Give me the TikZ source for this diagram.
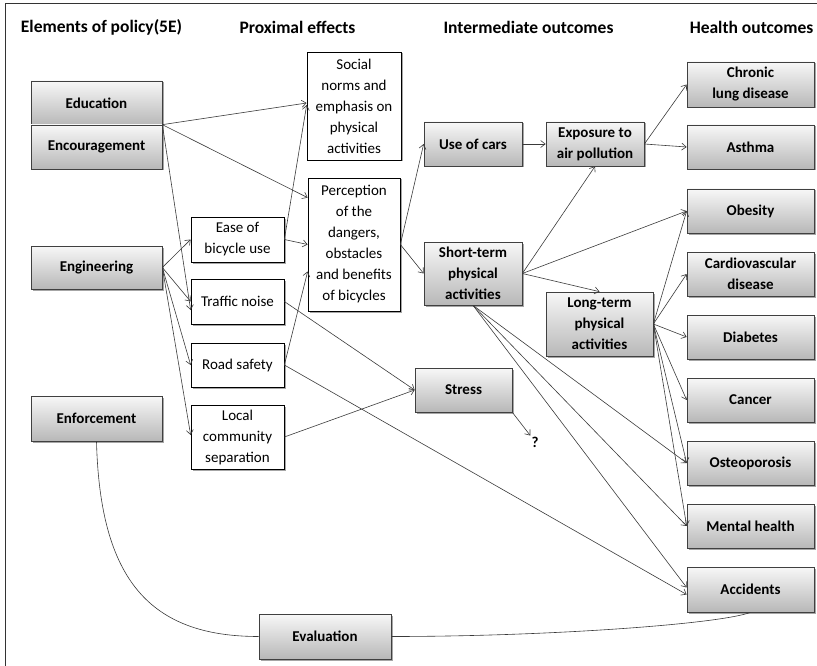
\documentclass[tikz,border=0pt]{standalone}
\usepackage{fontspec}
\setmainfont{Carlito}
\usetikzlibrary{arrows.meta,shadows}
\definecolor{edge}{HTML}{3A3A3A}
\begin{document}
\begin{tikzpicture}[x=1pt,y=-1pt,
  shd/.style={drop shadow={shadow xshift=1.5pt,shadow yshift=-1.5pt,fill=black,opacity=0.35}},
  gbox/.style={shd,draw=black!75,line width=0.7pt,top color=black!3,bottom color=black!28,
    font=\fontsize{15}{21}\selectfont\bfseries,align=center,inner sep=0pt},
  wbox/.style={shd,draw=black,line width=0.7pt,fill=white,
    font=\fontsize{15}{21}\selectfont,align=center,inner sep=0pt},
  hdr/.style={font=\fontsize{17.5}{21}\selectfont\bfseries,inner sep=0pt},
  conn/.style={draw=edge,line width=0.6pt,-{Straight Barb[length=4.5pt,width=7pt]}},
  link/.style={draw=edge,line width=0.6pt}]
\useasboundingbox (0,0) rectangle (817,666);
\draw[black!80,line width=0.8pt] (5,666) -- (5,3) -- (817,3);

% headers
\node[hdr] (h1) at (101.5,27) {Elements of policy(5E)};
\node[hdr] (h2) at (297.5,27) {Proximal effects};
\node[hdr] (h3) at (528.5,27) {Intermediate outcomes};
\node[hdr] (h4) at (751.5,27) {Health outcomes};

% elements of policy
\node[gbox,minimum width=131pt,minimum height=44pt] (edu) at (96.5,103) {Education};
\node[gbox,minimum width=131pt,minimum height=44pt] (enc) at (96.5,147) {Encouragement};
\node[gbox,minimum width=131pt,minimum height=43pt] (eng) at (96.5,267.5) {Engineering};
\node[gbox,minimum width=131pt,minimum height=45pt] (enf) at (96.5,418.5) {Enforcement};
\node[gbox,minimum width=132pt,minimum height=45pt] (eval) at (325,636.5) {Evaluation};

% proximal effects
\node[wbox,minimum width=94pt,minimum height=108pt] (social) at (354,106) {Social\\norms and\\emphasis on\\physical\\activities};
\node[wbox,minimum width=92pt,minimum height=133pt] (perc) at (354,244.5) {Perception\\of the\\dangers,\\obstacles\\and benefits\\of bicycles};
\node[wbox,minimum width=93pt,minimum height=45pt] (ease) at (237.5,239.5) {Ease of\\bicycle use};
\node[wbox,minimum width=93pt,minimum height=45pt] (noise) at (237.5,301.5) {Traffic noise};
\node[wbox,minimum width=93pt,minimum height=44pt] (road) at (237.5,365) {Road safety};
\node[wbox,minimum width=93pt,minimum height=64pt] (local) at (237.5,437) {Local\\community\\separation};

% intermediate outcomes
\node[gbox,minimum width=98pt,minimum height=44pt] (cars) at (473,144) {Use of cars};
\node[gbox,minimum width=98pt,minimum height=44pt] (expo) at (595,144) {Exposure to\\air pollution};
\node[gbox,minimum width=98pt,minimum height=63pt] (short) at (473,273.5) {Short-term\\physical\\activities};
\node[gbox,minimum width=107pt,minimum height=64pt] (long) at (599.5,324) {Long-term\\physical\\activities};
\node[gbox,minimum width=97pt,minimum height=44pt] (stress) at (463.5,390) {Stress};
\node[font=\fontsize{15}{18}\selectfont\bfseries,inner sep=1pt] (qm) at (535,442) {?};

% health outcomes
\node[gbox,minimum width=127pt,minimum height=45pt] (chronic) at (750.5,84.5) {Chronic\\lung disease};
\node[gbox,minimum width=127pt,minimum height=44pt] (asthma) at (750.5,147) {Asthma};
\node[gbox,minimum width=127pt,minimum height=44pt] (obes) at (750.5,211) {Obesity};
\node[gbox,minimum width=127pt,minimum height=44pt] (cardio) at (750.5,274) {Cardiovascular\\disease};
\node[gbox,minimum width=127pt,minimum height=44pt] (diab) at (750.5,337) {Diabetes};
\node[gbox,minimum width=127pt,minimum height=44pt] (cancer) at (750.5,400) {Cancer};
\node[gbox,minimum width=127pt,minimum height=44pt] (osteo) at (750.5,463) {Osteoporosis};
\node[gbox,minimum width=127pt,minimum height=44pt] (mental) at (750.5,526) {Mental health};
\node[gbox,minimum width=127pt,minimum height=45pt] (acc) at (750.5,589.5) {Accidents};

% connectors
\draw[conn] (enc.north east) -- ([yshift=3pt]social.west);
\draw[conn] (enc.north east) -- ([yshift=-20pt]perc.north west);
\draw[conn] (enc.north east) -- ([yshift=-8.5pt]noise.west);
\draw[conn] (eng.east) -- (ease.west);
\draw[conn] (eng.east) -- (noise.west);
\draw[conn] (eng.east) -- (road.west);
\draw[conn] (eng.east) -- ([yshift=2pt]local.west);
\draw[conn] (ease.east) -- ([yshift=1pt]social.west);
\draw[conn] (ease.east) -- (perc.west);
\draw[conn] (road.east) -- ([yshift=-27pt]perc.west);
\draw[conn] (noise.east) -- (stress.west);
\draw[conn] (local.east) -- (stress.west);
\draw[conn] (road.east) -- ([yshift=-5pt]acc.west);
\draw[conn] (perc.east) -- (cars.west);
\draw[conn] (perc.east) -- (short.west);
\draw[conn] (cars.east) -- (expo.west);
\draw[conn] (short.east) -- (expo.south);
\draw[conn] (short.east) -- (obes.west);
\draw[conn] (short.east) -- (long.north);
\draw[conn] (expo.east) -- (chronic.west);
\draw[conn] (expo.east) -- (asthma.west);
\draw[conn] (short.south) -- (osteo.west);
\draw[conn] (short.south) -- (mental.west);
\draw[conn] (short.south) -- ([yshift=2pt]acc.west);
\foreach \t in {obes,cardio,diab,cancer,osteo,mental}
  \draw[conn] (long.east) -- (\t.west);
\draw[conn] (stress.south east) -- (qm.north west);
\draw[link] (enf.south) .. controls (100,580) and (150,636.5) .. (eval.west);
\draw[link] (eval.east) .. controls (550,636.5) and (720,624) .. (acc.south);
\end{tikzpicture}
\end{document}
